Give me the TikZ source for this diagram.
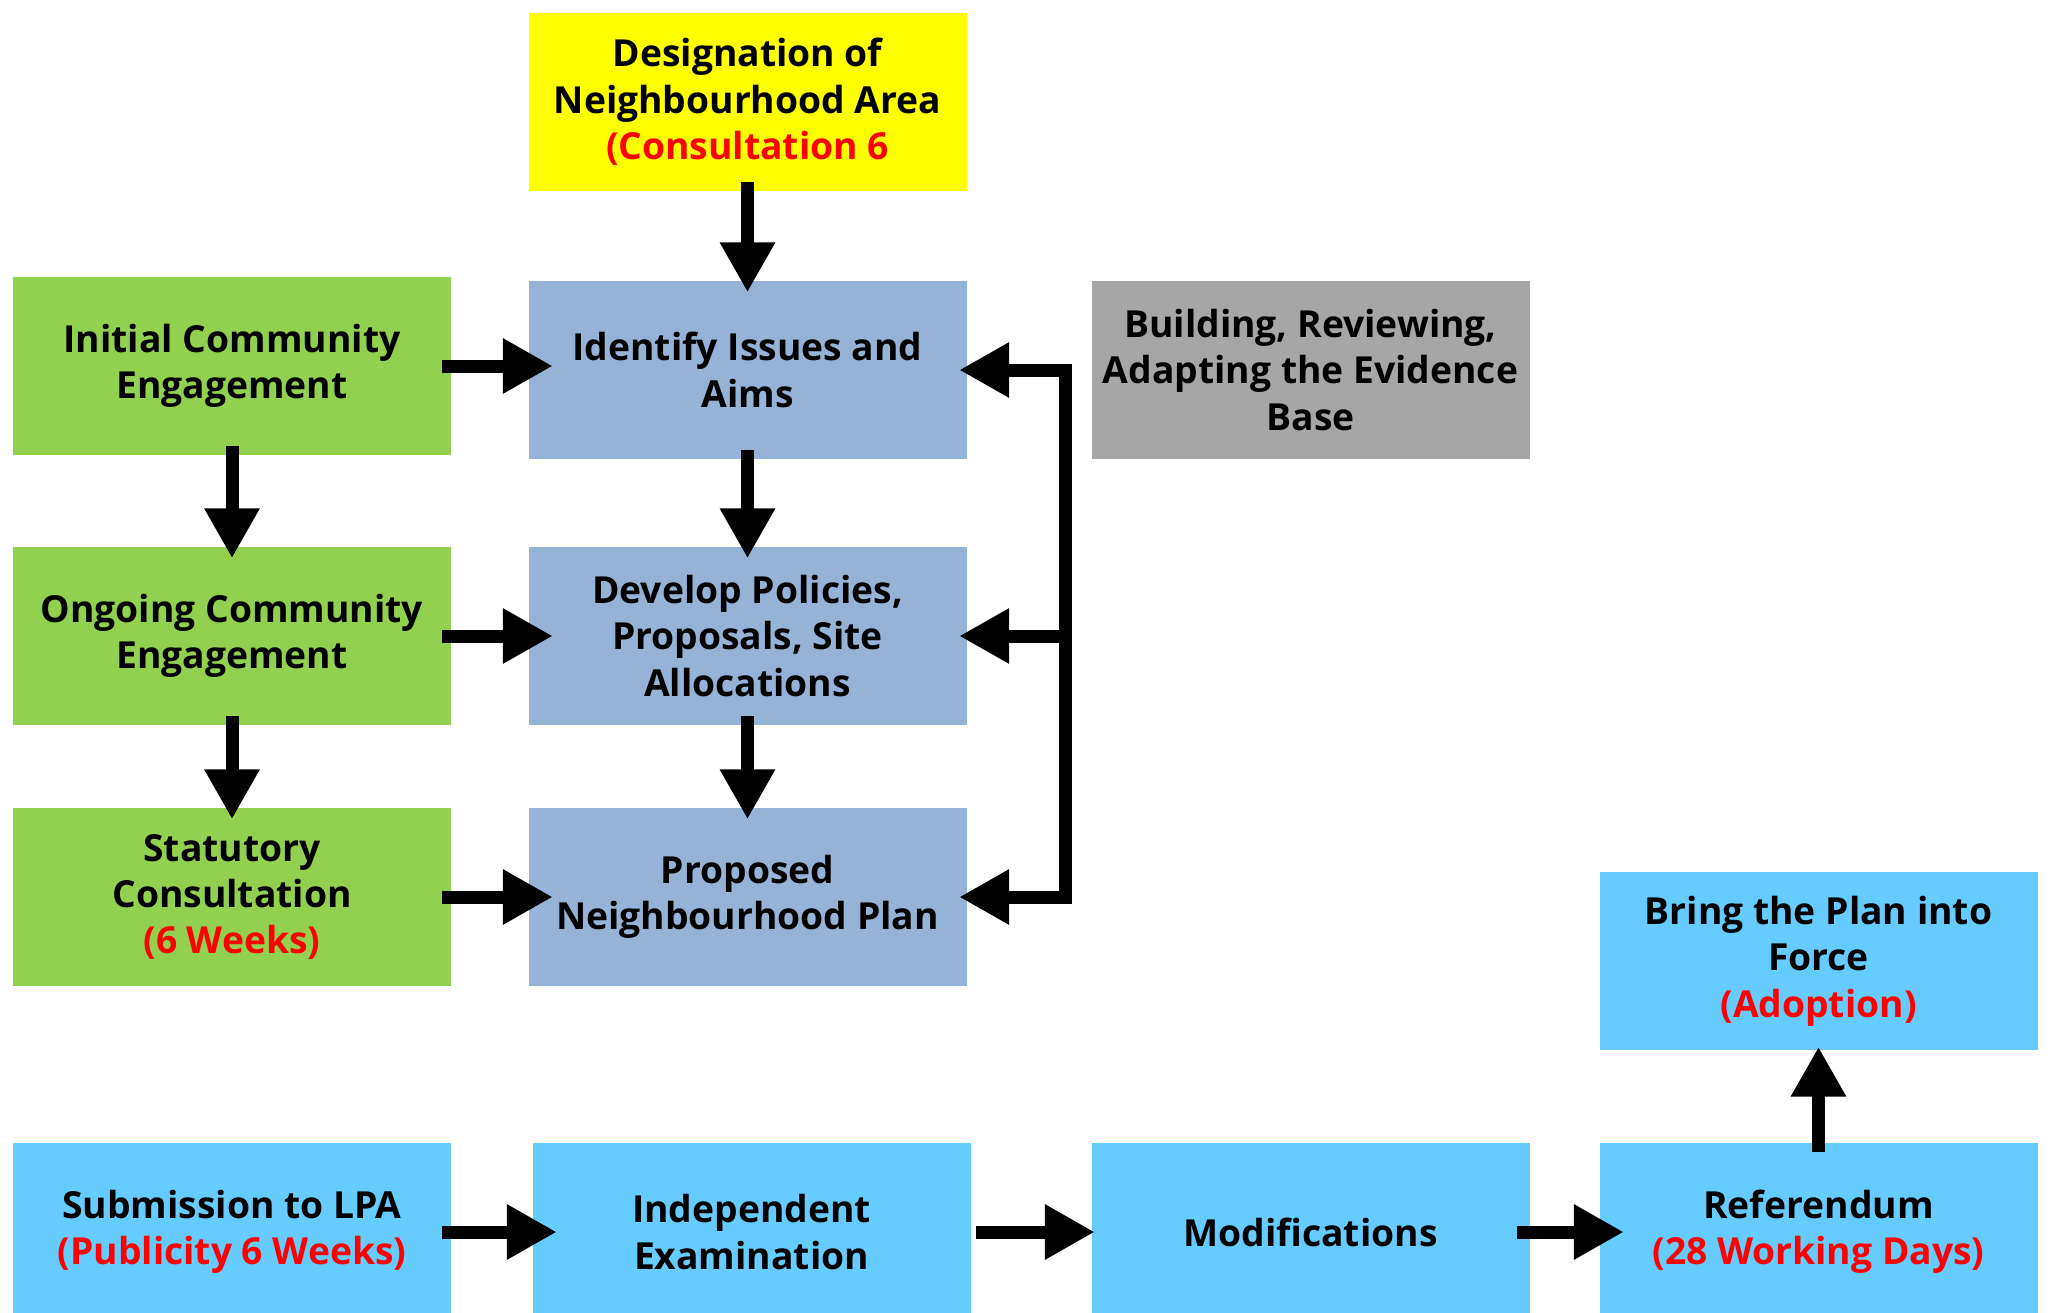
\documentclass[tikz,border=0pt]{standalone}
\usepackage{fontspec}
\setmainfont{Open Sans}
\usetikzlibrary{arrows.meta}

\definecolor{desigyellow}{HTML}{FFFF00}
\definecolor{commgreen}{HTML}{92D050}
\definecolor{planblue}{HTML}{95B3D7}
\definecolor{evidgrey}{HTML}{A6A6A6}
\definecolor{examcyan}{HTML}{66CCFF}
\newcommand{\redtxt}[1]{\textcolor{red}{#1}}

\begin{document}
\begin{tikzpicture}[
   box/.style={minimum width=4.38cm, minimum height=1.78cm, inner sep=0pt,
      align=center, font=\bfseries\fontsize{10.6}{13.2}\selectfont},
   lowbox/.style={box, fill=examcyan},
   arr/.style={line width=0.13cm, -{Triangle[width=0.52cm,length=0.5cm]},
      shorten <=-0.1cm, shorten >=-0.12cm},
   bar/.style={line width=0.13cm, line cap=rect}
]
   \useasboundingbox (0,0) rectangle (20.51,13.12);

   % top and middle column
   \node[box, fill=desigyellow] (desig) at (7.475,12.10) {Designation of\\Neighbourhood Area\\\redtxt{(Consultation 6}};
   \node[box, fill=planblue] (issues) at (7.475,9.42) {Identify Issues and\\Aims};
   \node[box, fill=planblue] (policies) at (7.475,6.76) {Develop Policies,\\Proposals, Site\\Allocations};
   \node[box, fill=planblue] (proposed) at (7.475,4.15) {Proposed\\Neighbourhood Plan};
   \node[box, fill=evidgrey] (evidence) at (13.105,9.42) {Building, Reviewing,\\Adapting the Evidence\\Base};

   % community column
   \node[box, fill=commgreen] (initial) at (2.32,9.46) {Initial Community\\Engagement};
   \node[box, fill=commgreen] (ongoing) at (2.32,6.76) {Ongoing Community\\Engagement};
   \node[box, fill=commgreen] (statutory) at (2.32,4.15) {Statutory\\Consultation\\\redtxt{(6 Weeks)}};

   % bottom row (runs off the lower edge)
   \node[lowbox] (submission) at (2.32,0.80) {Submission to LPA\\\redtxt{(Publicity 6 Weeks)}};
   \node[lowbox] (examination) at (7.515,0.80) {Independent\\Examination};
   \node[lowbox] (modifications) at (13.105,0.80) {Modifications};
   \node[lowbox] (referendum) at (18.185,0.80) {Referendum\\\redtxt{(28 Working Days)}};
   \node[box, fill=examcyan] (force) at (18.185,3.51) {Bring the Plan into\\Force\\\redtxt{(Adoption)}};

   \draw[arr] (desig) -- (issues);
   \draw[arr] (issues) -- (policies);
   \draw[arr] (policies) -- (proposed);
   \draw[arr] (initial) -- (ongoing);
   \draw[arr] (ongoing) -- (statutory);

   \draw[arr, shorten >=-0.25cm] (initial.east) -- (initial.east -| issues.west);
   \draw[arr, shorten >=-0.25cm] (ongoing.east) -- (policies.west);
   \draw[arr, shorten >=-0.25cm] (statutory.east) -- (proposed.west);

   % feedback from the evidence base
   \path (issues.east) ++(0.985,0) coordinate (fbtop);
   \path (policies.east) ++(0.985,0) coordinate (fbmid);
   \path (proposed.east) ++(0.985,0) coordinate (fbbot);
   \draw[bar] (fbtop) -- (fbbot);
   \draw[arr, shorten <=0pt, shorten >=-0.08cm] (fbtop) -- (issues.east);
   \draw[arr, shorten <=0pt, shorten >=-0.08cm] (fbmid) -- (policies.east);
   \draw[arr, shorten <=0pt, shorten >=-0.08cm] (fbbot) -- (proposed.east);

   \draw[arr, shorten >=-0.25cm] (submission) -- (examination);
   \draw[arr, shorten <=0.05cm, shorten >=-0.04cm] (examination) -- (modifications);
   \draw[arr, shorten <=-0.13cm, shorten >=-0.25cm] (modifications) -- (referendum);
   \draw[arr, shorten <=-0.1cm, shorten >=-0.04cm] (referendum.north) -- (force.south);
\end{tikzpicture}
\end{document}
